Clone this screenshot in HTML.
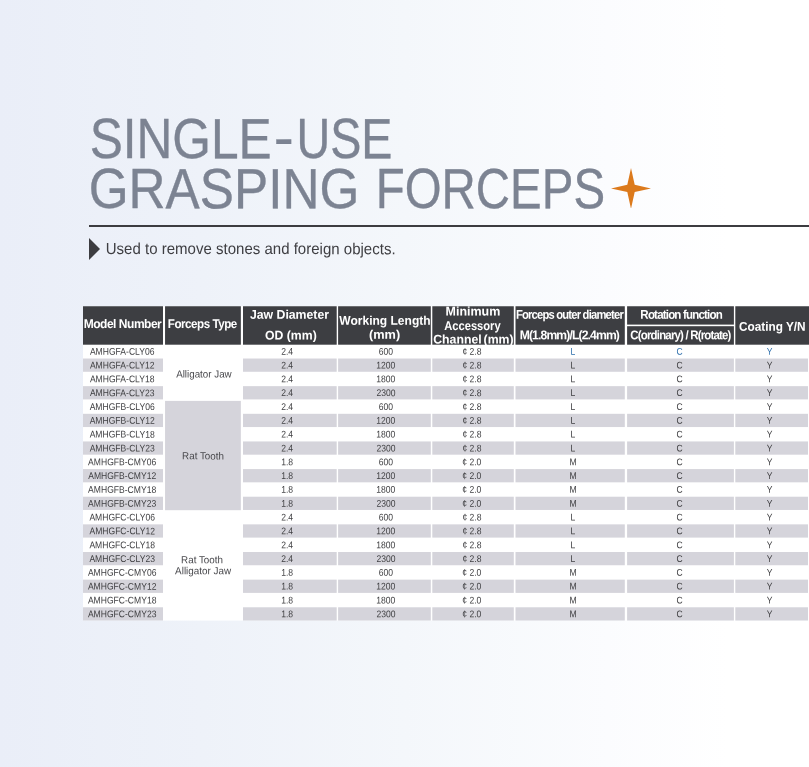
<!DOCTYPE html>
<html lang="en"><head><meta charset="utf-8"><title>Single-Use Grasping Forceps</title>
<style>
*{box-sizing:border-box;margin:0;padding:0}
html,body{width:809px;height:767px;overflow:hidden}
body{position:relative;font-family:"Liberation Sans", "Noto Sans CJK SC", sans-serif;text-rendering:geometricPrecision;color:#4a4a4d;
background:linear-gradient(90deg,#eaeef8 0%,#eef2f9 25%,#f4f7fb 50%,#fbfcfe 75%,#ffffff 90%)}
h1,p,th,td{font-weight:400;font-size:0;line-height:0}
h1 span,.sub span,.t{position:absolute;left:0;top:0;display:block;white-space:nowrap;line-height:1;transform-origin:0 0}
h1 span{font-size:56.8px;color:#7c8392}
.star{position:absolute;left:610.6px;top:167.6px;width:40px;height:40.8px}
hr{position:absolute;left:89.3px;top:224.8px;width:720px;height:2px;border:0;background:#3c3c40}
.tri{position:absolute;left:89.4px;top:238.1px;width:0;height:0;border-left:11.8px solid #3c3c40;border-top:11.15px solid transparent;border-bottom:11.15px solid transparent}
.sub span{font-size:16px;color:#3e3e42}
.bg{position:absolute;left:0;top:0;width:809px;height:767px}
table{position:absolute;left:83.0px;top:306.25px;border-collapse:collapse;table-layout:fixed;width:726.0px}
thead tr{height:19.225px}
tbody tr{height:13.82px}
th .t{font-size:12.6px;font-weight:700;color:#fff}
th .m{font-weight:700}
td .t{font-size:9.74px;color:#404043}
td .k{font-size:10.3px;color:#48484c}
td .bl{color:#2f70ad}
</style></head>
<body>
<h1 aria-label="SINGLE-USE GRASPING FORCEPS"><span style="transform:matrix(0.8736,.001,0,1,89.63,112.05);-webkit-text-stroke:.35px #7c8392;">SINGLE</span><span style="transform:matrix(1.0574,.001,0,1,273.82,110.86);-webkit-text-stroke:.35px #7c8392;">-</span><span style="transform:matrix(0.8217,.001,0,1,296.51,112.05);-webkit-text-stroke:.35px #7c8392;">USE</span> <span style="transform:matrix(0.9023,.001,0,1,88.73,162.05);-webkit-text-stroke:.35px #7c8392;">GRASPING</span> <span style="transform:matrix(0.8351,.001,0,1,375.75,162.05);-webkit-text-stroke:.35px #7c8392;">FORCEPS</span></h1>
<svg class="star" viewBox="0 0 40 40.8"><path d="M20 0 L23.7 16.7 L40 20.4 L23.7 24.1 L20 40.8 L16.3 24.1 L0 20.4 L16.3 16.7 Z" fill="#dc7a1c"/></svg>
<hr>
<div class="tri"></div>
<p class="sub"><span style="transform:matrix(0.9392,.001,0,1,105.74,241.90);">Used to remove stones and foreign objects.</span></p>
<svg class="bg" viewBox="0 0 809 767" aria-hidden="true"><rect x="83.00" y="306.25" width="726.00" height="314.33" fill="#ffffff"/><rect x="83.00" y="306.25" width="80.00" height="38.45" fill="#3d3e42"/><rect x="165.05" y="306.25" width="75.80" height="38.45" fill="#3d3e42"/><rect x="243.00" y="306.25" width="93.70" height="38.45" fill="#3d3e42"/><rect x="338.10" y="306.25" width="92.70" height="38.45" fill="#3d3e42"/><rect x="432.30" y="306.25" width="81.50" height="38.45" fill="#3d3e42"/><rect x="515.50" y="306.25" width="109.30" height="38.45" fill="#3d3e42"/><rect x="627.10" y="306.25" width="106.80" height="18.35" fill="#3d3e42"/><rect x="627.10" y="326.20" width="106.80" height="18.50" fill="#3d3e42"/><rect x="735.30" y="306.25" width="73.70" height="38.45" fill="#3d3e42"/><rect x="83.00" y="358.52" width="80.00" height="13.25" fill="#d5d4db"/><rect x="243.00" y="358.52" width="93.70" height="13.25" fill="#d5d4db"/><rect x="338.10" y="358.52" width="92.70" height="13.25" fill="#d5d4db"/><rect x="432.30" y="358.52" width="81.50" height="13.25" fill="#d5d4db"/><rect x="515.50" y="358.52" width="109.30" height="13.25" fill="#d5d4db"/><rect x="627.10" y="358.52" width="106.80" height="13.25" fill="#d5d4db"/><rect x="735.30" y="358.52" width="72.70" height="13.25" fill="#d5d4db"/><rect x="83.00" y="386.16" width="80.00" height="13.25" fill="#d5d4db"/><rect x="243.00" y="386.16" width="93.70" height="13.25" fill="#d5d4db"/><rect x="338.10" y="386.16" width="92.70" height="13.25" fill="#d5d4db"/><rect x="432.30" y="386.16" width="81.50" height="13.25" fill="#d5d4db"/><rect x="515.50" y="386.16" width="109.30" height="13.25" fill="#d5d4db"/><rect x="627.10" y="386.16" width="106.80" height="13.25" fill="#d5d4db"/><rect x="735.30" y="386.16" width="72.70" height="13.25" fill="#d5d4db"/><rect x="83.00" y="413.80" width="80.00" height="13.25" fill="#d5d4db"/><rect x="243.00" y="413.80" width="93.70" height="13.25" fill="#d5d4db"/><rect x="338.10" y="413.80" width="92.70" height="13.25" fill="#d5d4db"/><rect x="432.30" y="413.80" width="81.50" height="13.25" fill="#d5d4db"/><rect x="515.50" y="413.80" width="109.30" height="13.25" fill="#d5d4db"/><rect x="627.10" y="413.80" width="106.80" height="13.25" fill="#d5d4db"/><rect x="735.30" y="413.80" width="72.70" height="13.25" fill="#d5d4db"/><rect x="83.00" y="441.44" width="80.00" height="13.25" fill="#d5d4db"/><rect x="243.00" y="441.44" width="93.70" height="13.25" fill="#d5d4db"/><rect x="338.10" y="441.44" width="92.70" height="13.25" fill="#d5d4db"/><rect x="432.30" y="441.44" width="81.50" height="13.25" fill="#d5d4db"/><rect x="515.50" y="441.44" width="109.30" height="13.25" fill="#d5d4db"/><rect x="627.10" y="441.44" width="106.80" height="13.25" fill="#d5d4db"/><rect x="735.30" y="441.44" width="72.70" height="13.25" fill="#d5d4db"/><rect x="83.00" y="469.08" width="80.00" height="13.25" fill="#d5d4db"/><rect x="243.00" y="469.08" width="93.70" height="13.25" fill="#d5d4db"/><rect x="338.10" y="469.08" width="92.70" height="13.25" fill="#d5d4db"/><rect x="432.30" y="469.08" width="81.50" height="13.25" fill="#d5d4db"/><rect x="515.50" y="469.08" width="109.30" height="13.25" fill="#d5d4db"/><rect x="627.10" y="469.08" width="106.80" height="13.25" fill="#d5d4db"/><rect x="735.30" y="469.08" width="72.70" height="13.25" fill="#d5d4db"/><rect x="83.00" y="496.72" width="80.00" height="13.25" fill="#d5d4db"/><rect x="243.00" y="496.72" width="93.70" height="13.25" fill="#d5d4db"/><rect x="338.10" y="496.72" width="92.70" height="13.25" fill="#d5d4db"/><rect x="432.30" y="496.72" width="81.50" height="13.25" fill="#d5d4db"/><rect x="515.50" y="496.72" width="109.30" height="13.25" fill="#d5d4db"/><rect x="627.10" y="496.72" width="106.80" height="13.25" fill="#d5d4db"/><rect x="735.30" y="496.72" width="72.70" height="13.25" fill="#d5d4db"/><rect x="83.00" y="524.36" width="80.00" height="13.25" fill="#d5d4db"/><rect x="243.00" y="524.36" width="93.70" height="13.25" fill="#d5d4db"/><rect x="338.10" y="524.36" width="92.70" height="13.25" fill="#d5d4db"/><rect x="432.30" y="524.36" width="81.50" height="13.25" fill="#d5d4db"/><rect x="515.50" y="524.36" width="109.30" height="13.25" fill="#d5d4db"/><rect x="627.10" y="524.36" width="106.80" height="13.25" fill="#d5d4db"/><rect x="735.30" y="524.36" width="72.70" height="13.25" fill="#d5d4db"/><rect x="83.00" y="552.00" width="80.00" height="13.25" fill="#d5d4db"/><rect x="243.00" y="552.00" width="93.70" height="13.25" fill="#d5d4db"/><rect x="338.10" y="552.00" width="92.70" height="13.25" fill="#d5d4db"/><rect x="432.30" y="552.00" width="81.50" height="13.25" fill="#d5d4db"/><rect x="515.50" y="552.00" width="109.30" height="13.25" fill="#d5d4db"/><rect x="627.10" y="552.00" width="106.80" height="13.25" fill="#d5d4db"/><rect x="735.30" y="552.00" width="72.70" height="13.25" fill="#d5d4db"/><rect x="83.00" y="579.64" width="80.00" height="13.25" fill="#d5d4db"/><rect x="243.00" y="579.64" width="93.70" height="13.25" fill="#d5d4db"/><rect x="338.10" y="579.64" width="92.70" height="13.25" fill="#d5d4db"/><rect x="432.30" y="579.64" width="81.50" height="13.25" fill="#d5d4db"/><rect x="515.50" y="579.64" width="109.30" height="13.25" fill="#d5d4db"/><rect x="627.10" y="579.64" width="106.80" height="13.25" fill="#d5d4db"/><rect x="735.30" y="579.64" width="72.70" height="13.25" fill="#d5d4db"/><rect x="83.00" y="607.28" width="80.00" height="13.25" fill="#d5d4db"/><rect x="243.00" y="607.28" width="93.70" height="13.25" fill="#d5d4db"/><rect x="338.10" y="607.28" width="92.70" height="13.25" fill="#d5d4db"/><rect x="432.30" y="607.28" width="81.50" height="13.25" fill="#d5d4db"/><rect x="515.50" y="607.28" width="109.30" height="13.25" fill="#d5d4db"/><rect x="627.10" y="607.28" width="106.80" height="13.25" fill="#d5d4db"/><rect x="735.30" y="607.28" width="72.70" height="13.25" fill="#d5d4db"/><rect x="165.05" y="400.90" width="75.80" height="109.30" fill="#d5d4db"/></svg>
<table><colgroup><col style="width:82.05px"><col style="width:77.95px"><col style="width:95.10px"><col style="width:94.20px"><col style="width:83.20px"><col style="width:111.60px"><col style="width:108.20px"><col style="width:73.70px"></colgroup>
<thead><tr>
<th rowspan="2"><span class="t" style="transform:matrix(0.9529,.001,0,1,0.69,12.05);letter-spacing:-.5px;">Model Number</span></th>
<th rowspan="2"><span class="t" style="transform:matrix(0.9212,.001,0,1,84.81,12.05);letter-spacing:-.5px;">Forceps Type</span></th>
<th rowspan="2"><span class="t" style="transform:matrix(0.9753,.001,0,1,166.88,2.75);">Jaw Diameter</span> <span class="t" style="transform:matrix(0.9727,.001,0,1,182.01,23.45);">OD (mm)</span></th>
<th rowspan="2"><span class="t" style="transform:matrix(0.9549,.001,0,1,256.30,8.75);">Working Length</span> <span class="t" style="transform:matrix(1.0127,.001,0,1,285.97,22.75);">(mm)</span></th>
<th rowspan="2"><span class="t" style="transform:matrix(0.9907,.001,0,1,362.56,-0.45);">Minimum</span> <span class="t" style="transform:matrix(0.8868,.001,0,1,361.18,13.95);">Accessory</span> <span class="t" style="transform:matrix(0.9760,.001,0,1,350.21,27.45);word-spacing:-1.6px;">Channel (mm)</span></th>
<th rowspan="2"><span class="t m" style="transform:matrix(0.8912,.001,0,1,432.88,2.65);letter-spacing:-.9px;">Forceps outer diameter</span> <span class="t m" style="transform:matrix(0.9649,.001,0,1,436.68,23.25);letter-spacing:-.9px;">M(1.8mm)/L(2.4mm)</span></th>
<th><span class="t m" style="transform:matrix(0.9170,.001,0,1,557.37,2.65);letter-spacing:-.9px;">Rotation function</span></th>
<th rowspan="2"><span class="t" style="transform:matrix(0.9374,.001,0,1,655.93,14.75);">Coating Y/N</span></th>
</tr><tr><th><span class="t m" style="transform:matrix(0.9100,.001,0,1,547.34,23.25);letter-spacing:-.9px;">C(ordinary) / R(rotate)</span></th></tr></thead>
<tbody>
<tr><td><span class="t" style="transform:matrix(0.8800,.001,0,1,6.88,41.65);">AMHGFA-CLY06</span></td><td rowspan="4"><span class="t k" style="transform:matrix(0.9516,.001,0,1,93.15,64.55);">Alligator Jaw</span></td><td><span class="t" style="transform:matrix(0.8800,.001,0,1,198.15,41.65);">2.4</span></td><td><span class="t" style="transform:matrix(0.8800,.001,0,1,295.80,41.65);">600</span></td><td><span class="t" style="transform:matrix(0.8800,.001,0,1,379.38,41.65);">¢ 2.8</span></td><td><span class="t bl" style="transform:matrix(0.8800,.001,0,1,487.52,41.65);">L</span></td><td><span class="t bl" style="transform:matrix(0.8800,.001,0,1,593.41,41.65);">C</span></td><td><span class="t bl" style="transform:matrix(0.8800,.001,0,1,683.84,41.65);">Y</span></td></tr>
<tr><td><span class="t" style="transform:matrix(0.8800,.001,0,1,6.88,55.47);">AMHGFA-CLY12</span></td><td><span class="t" style="transform:matrix(0.8800,.001,0,1,198.15,55.47);">2.4</span></td><td><span class="t" style="transform:matrix(0.8800,.001,0,1,293.32,55.47);">1200</span></td><td><span class="t" style="transform:matrix(0.8800,.001,0,1,379.38,55.47);">¢ 2.8</span></td><td><span class="t" style="transform:matrix(0.8800,.001,0,1,487.52,55.47);">L</span></td><td><span class="t" style="transform:matrix(0.8800,.001,0,1,593.41,55.47);">C</span></td><td><span class="t" style="transform:matrix(0.8800,.001,0,1,683.84,55.47);">Y</span></td></tr>
<tr><td><span class="t" style="transform:matrix(0.8800,.001,0,1,6.88,69.29);">AMHGFA-CLY18</span></td><td><span class="t" style="transform:matrix(0.8800,.001,0,1,198.15,69.29);">2.4</span></td><td><span class="t" style="transform:matrix(0.8800,.001,0,1,293.32,69.29);">1800</span></td><td><span class="t" style="transform:matrix(0.8800,.001,0,1,379.38,69.29);">¢ 2.8</span></td><td><span class="t" style="transform:matrix(0.8800,.001,0,1,487.52,69.29);">L</span></td><td><span class="t" style="transform:matrix(0.8800,.001,0,1,593.41,69.29);">C</span></td><td><span class="t" style="transform:matrix(0.8800,.001,0,1,683.84,69.29);">Y</span></td></tr>
<tr><td><span class="t" style="transform:matrix(0.8800,.001,0,1,6.88,83.11);">AMHGFA-CLY23</span></td><td><span class="t" style="transform:matrix(0.8800,.001,0,1,198.15,83.11);">2.4</span></td><td><span class="t" style="transform:matrix(0.8800,.001,0,1,293.43,83.11);">2300</span></td><td><span class="t" style="transform:matrix(0.8800,.001,0,1,379.38,83.11);">¢ 2.8</span></td><td><span class="t" style="transform:matrix(0.8800,.001,0,1,487.52,83.11);">L</span></td><td><span class="t" style="transform:matrix(0.8800,.001,0,1,593.41,83.11);">C</span></td><td><span class="t" style="transform:matrix(0.8800,.001,0,1,683.84,83.11);">Y</span></td></tr>
<tr><td><span class="t" style="transform:matrix(0.8800,.001,0,1,6.66,96.93);">AMHGFB-CLY06</span></td><td rowspan="8"><span class="t k" style="transform:matrix(0.9529,.001,0,1,99.09,146.35);">Rat Tooth</span></td><td><span class="t" style="transform:matrix(0.8800,.001,0,1,198.15,96.93);">2.4</span></td><td><span class="t" style="transform:matrix(0.8800,.001,0,1,295.80,96.93);">600</span></td><td><span class="t" style="transform:matrix(0.8800,.001,0,1,379.38,96.93);">¢ 2.8</span></td><td><span class="t" style="transform:matrix(0.8800,.001,0,1,487.52,96.93);">L</span></td><td><span class="t" style="transform:matrix(0.8800,.001,0,1,593.41,96.93);">C</span></td><td><span class="t" style="transform:matrix(0.8800,.001,0,1,683.84,96.93);">Y</span></td></tr>
<tr><td><span class="t" style="transform:matrix(0.8800,.001,0,1,6.66,110.75);">AMHGFB-CLY12</span></td><td><span class="t" style="transform:matrix(0.8800,.001,0,1,198.15,110.75);">2.4</span></td><td><span class="t" style="transform:matrix(0.8800,.001,0,1,293.32,110.75);">1200</span></td><td><span class="t" style="transform:matrix(0.8800,.001,0,1,379.38,110.75);">¢ 2.8</span></td><td><span class="t" style="transform:matrix(0.8800,.001,0,1,487.52,110.75);">L</span></td><td><span class="t" style="transform:matrix(0.8800,.001,0,1,593.41,110.75);">C</span></td><td><span class="t" style="transform:matrix(0.8800,.001,0,1,683.84,110.75);">Y</span></td></tr>
<tr><td><span class="t" style="transform:matrix(0.8800,.001,0,1,6.66,124.57);">AMHGFB-CLY18</span></td><td><span class="t" style="transform:matrix(0.8800,.001,0,1,198.15,124.57);">2.4</span></td><td><span class="t" style="transform:matrix(0.8800,.001,0,1,293.32,124.57);">1800</span></td><td><span class="t" style="transform:matrix(0.8800,.001,0,1,379.38,124.57);">¢ 2.8</span></td><td><span class="t" style="transform:matrix(0.8800,.001,0,1,487.52,124.57);">L</span></td><td><span class="t" style="transform:matrix(0.8800,.001,0,1,593.41,124.57);">C</span></td><td><span class="t" style="transform:matrix(0.8800,.001,0,1,683.84,124.57);">Y</span></td></tr>
<tr><td><span class="t" style="transform:matrix(0.8800,.001,0,1,6.66,138.39);">AMHGFB-CLY23</span></td><td><span class="t" style="transform:matrix(0.8800,.001,0,1,198.15,138.39);">2.4</span></td><td><span class="t" style="transform:matrix(0.8800,.001,0,1,293.43,138.39);">2300</span></td><td><span class="t" style="transform:matrix(0.8800,.001,0,1,379.38,138.39);">¢ 2.8</span></td><td><span class="t" style="transform:matrix(0.8800,.001,0,1,487.52,138.39);">L</span></td><td><span class="t" style="transform:matrix(0.8800,.001,0,1,593.41,138.39);">C</span></td><td><span class="t" style="transform:matrix(0.8800,.001,0,1,683.84,138.39);">Y</span></td></tr>
<tr><td><span class="t" style="transform:matrix(0.8800,.001,0,1,5.12,152.21);">AMHGFB-CMY06</span></td><td><span class="t" style="transform:matrix(0.8800,.001,0,1,198.15,152.21);">1.8</span></td><td><span class="t" style="transform:matrix(0.8800,.001,0,1,295.80,152.21);">600</span></td><td><span class="t" style="transform:matrix(0.8800,.001,0,1,379.32,152.21);">¢ 2.0</span></td><td><span class="t" style="transform:matrix(0.8800,.001,0,1,486.53,152.21);">M</span></td><td><span class="t" style="transform:matrix(0.8800,.001,0,1,593.41,152.21);">C</span></td><td><span class="t" style="transform:matrix(0.8800,.001,0,1,683.84,152.21);">Y</span></td></tr>
<tr><td><span class="t" style="transform:matrix(0.8800,.001,0,1,5.17,166.03);">AMHGFB-CMY12</span></td><td><span class="t" style="transform:matrix(0.8800,.001,0,1,198.15,166.03);">1.8</span></td><td><span class="t" style="transform:matrix(0.8800,.001,0,1,293.32,166.03);">1200</span></td><td><span class="t" style="transform:matrix(0.8800,.001,0,1,379.32,166.03);">¢ 2.0</span></td><td><span class="t" style="transform:matrix(0.8800,.001,0,1,486.53,166.03);">M</span></td><td><span class="t" style="transform:matrix(0.8800,.001,0,1,593.41,166.03);">C</span></td><td><span class="t" style="transform:matrix(0.8800,.001,0,1,683.84,166.03);">Y</span></td></tr>
<tr><td><span class="t" style="transform:matrix(0.8800,.001,0,1,5.12,179.85);">AMHGFB-CMY18</span></td><td><span class="t" style="transform:matrix(0.8800,.001,0,1,198.15,179.85);">1.8</span></td><td><span class="t" style="transform:matrix(0.8800,.001,0,1,293.32,179.85);">1800</span></td><td><span class="t" style="transform:matrix(0.8800,.001,0,1,379.32,179.85);">¢ 2.0</span></td><td><span class="t" style="transform:matrix(0.8800,.001,0,1,486.53,179.85);">M</span></td><td><span class="t" style="transform:matrix(0.8800,.001,0,1,593.41,179.85);">C</span></td><td><span class="t" style="transform:matrix(0.8800,.001,0,1,683.84,179.85);">Y</span></td></tr>
<tr><td><span class="t" style="transform:matrix(0.8800,.001,0,1,5.12,193.67);">AMHGFB-CMY23</span></td><td><span class="t" style="transform:matrix(0.8800,.001,0,1,198.15,193.67);">1.8</span></td><td><span class="t" style="transform:matrix(0.8800,.001,0,1,293.43,193.67);">2300</span></td><td><span class="t" style="transform:matrix(0.8800,.001,0,1,379.32,193.67);">¢ 2.0</span></td><td><span class="t" style="transform:matrix(0.8800,.001,0,1,486.53,193.67);">M</span></td><td><span class="t" style="transform:matrix(0.8800,.001,0,1,593.41,193.67);">C</span></td><td><span class="t" style="transform:matrix(0.8800,.001,0,1,683.84,193.67);">Y</span></td></tr>
<tr><td><span class="t" style="transform:matrix(0.8800,.001,0,1,6.38,207.49);">AMHGFC-CLY06</span></td><td rowspan="8"><span class="t k" style="transform:matrix(0.9529,.001,0,1,98.09,250.25);">Rat Tooth</span><br><span class="t k" style="transform:matrix(0.9585,.001,0,1,92.10,261.25);">Alligator Jaw</span></td><td><span class="t" style="transform:matrix(0.8800,.001,0,1,198.15,207.49);">2.4</span></td><td><span class="t" style="transform:matrix(0.8800,.001,0,1,295.80,207.49);">600</span></td><td><span class="t" style="transform:matrix(0.8800,.001,0,1,379.38,207.49);">¢ 2.8</span></td><td><span class="t" style="transform:matrix(0.8800,.001,0,1,487.52,207.49);">L</span></td><td><span class="t" style="transform:matrix(0.8800,.001,0,1,593.41,207.49);">C</span></td><td><span class="t" style="transform:matrix(0.8800,.001,0,1,683.84,207.49);">Y</span></td></tr>
<tr><td><span class="t" style="transform:matrix(0.8800,.001,0,1,6.44,221.31);">AMHGFC-CLY12</span></td><td><span class="t" style="transform:matrix(0.8800,.001,0,1,198.15,221.31);">2.4</span></td><td><span class="t" style="transform:matrix(0.8800,.001,0,1,293.32,221.31);">1200</span></td><td><span class="t" style="transform:matrix(0.8800,.001,0,1,379.38,221.31);">¢ 2.8</span></td><td><span class="t" style="transform:matrix(0.8800,.001,0,1,487.52,221.31);">L</span></td><td><span class="t" style="transform:matrix(0.8800,.001,0,1,593.41,221.31);">C</span></td><td><span class="t" style="transform:matrix(0.8800,.001,0,1,683.84,221.31);">Y</span></td></tr>
<tr><td><span class="t" style="transform:matrix(0.8800,.001,0,1,6.38,235.13);">AMHGFC-CLY18</span></td><td><span class="t" style="transform:matrix(0.8800,.001,0,1,198.15,235.13);">2.4</span></td><td><span class="t" style="transform:matrix(0.8800,.001,0,1,293.32,235.13);">1800</span></td><td><span class="t" style="transform:matrix(0.8800,.001,0,1,379.38,235.13);">¢ 2.8</span></td><td><span class="t" style="transform:matrix(0.8800,.001,0,1,487.52,235.13);">L</span></td><td><span class="t" style="transform:matrix(0.8800,.001,0,1,593.41,235.13);">C</span></td><td><span class="t" style="transform:matrix(0.8800,.001,0,1,683.84,235.13);">Y</span></td></tr>
<tr><td><span class="t" style="transform:matrix(0.8800,.001,0,1,6.38,248.95);">AMHGFC-CLY23</span></td><td><span class="t" style="transform:matrix(0.8800,.001,0,1,198.15,248.95);">2.4</span></td><td><span class="t" style="transform:matrix(0.8800,.001,0,1,293.43,248.95);">2300</span></td><td><span class="t" style="transform:matrix(0.8800,.001,0,1,379.38,248.95);">¢ 2.8</span></td><td><span class="t" style="transform:matrix(0.8800,.001,0,1,487.52,248.95);">L</span></td><td><span class="t" style="transform:matrix(0.8800,.001,0,1,593.41,248.95);">C</span></td><td><span class="t" style="transform:matrix(0.8800,.001,0,1,683.84,248.95);">Y</span></td></tr>
<tr><td><span class="t" style="transform:matrix(0.8800,.001,0,1,4.90,262.77);">AMHGFC-CMY06</span></td><td><span class="t" style="transform:matrix(0.8800,.001,0,1,198.15,262.77);">1.8</span></td><td><span class="t" style="transform:matrix(0.8800,.001,0,1,295.80,262.77);">600</span></td><td><span class="t" style="transform:matrix(0.8800,.001,0,1,379.32,262.77);">¢ 2.0</span></td><td><span class="t" style="transform:matrix(0.8800,.001,0,1,486.53,262.77);">M</span></td><td><span class="t" style="transform:matrix(0.8800,.001,0,1,593.41,262.77);">C</span></td><td><span class="t" style="transform:matrix(0.8800,.001,0,1,683.84,262.77);">Y</span></td></tr>
<tr><td><span class="t" style="transform:matrix(0.8800,.001,0,1,4.90,276.59);">AMHGFC-CMY12</span></td><td><span class="t" style="transform:matrix(0.8800,.001,0,1,198.15,276.59);">1.8</span></td><td><span class="t" style="transform:matrix(0.8800,.001,0,1,293.32,276.59);">1200</span></td><td><span class="t" style="transform:matrix(0.8800,.001,0,1,379.32,276.59);">¢ 2.0</span></td><td><span class="t" style="transform:matrix(0.8800,.001,0,1,486.53,276.59);">M</span></td><td><span class="t" style="transform:matrix(0.8800,.001,0,1,593.41,276.59);">C</span></td><td><span class="t" style="transform:matrix(0.8800,.001,0,1,683.84,276.59);">Y</span></td></tr>
<tr><td><span class="t" style="transform:matrix(0.8800,.001,0,1,4.90,290.41);">AMHGFC-CMY18</span></td><td><span class="t" style="transform:matrix(0.8800,.001,0,1,198.15,290.41);">1.8</span></td><td><span class="t" style="transform:matrix(0.8800,.001,0,1,293.32,290.41);">1800</span></td><td><span class="t" style="transform:matrix(0.8800,.001,0,1,379.32,290.41);">¢ 2.0</span></td><td><span class="t" style="transform:matrix(0.8800,.001,0,1,486.53,290.41);">M</span></td><td><span class="t" style="transform:matrix(0.8800,.001,0,1,593.41,290.41);">C</span></td><td><span class="t" style="transform:matrix(0.8800,.001,0,1,683.84,290.41);">Y</span></td></tr>
<tr><td><span class="t" style="transform:matrix(0.8800,.001,0,1,4.90,304.23);">AMHGFC-CMY23</span></td><td><span class="t" style="transform:matrix(0.8800,.001,0,1,198.15,304.23);">1.8</span></td><td><span class="t" style="transform:matrix(0.8800,.001,0,1,293.43,304.23);">2300</span></td><td><span class="t" style="transform:matrix(0.8800,.001,0,1,379.32,304.23);">¢ 2.0</span></td><td><span class="t" style="transform:matrix(0.8800,.001,0,1,486.53,304.23);">M</span></td><td><span class="t" style="transform:matrix(0.8800,.001,0,1,593.41,304.23);">C</span></td><td><span class="t" style="transform:matrix(0.8800,.001,0,1,683.84,304.23);">Y</span></td></tr>
</tbody></table>
</body></html>
